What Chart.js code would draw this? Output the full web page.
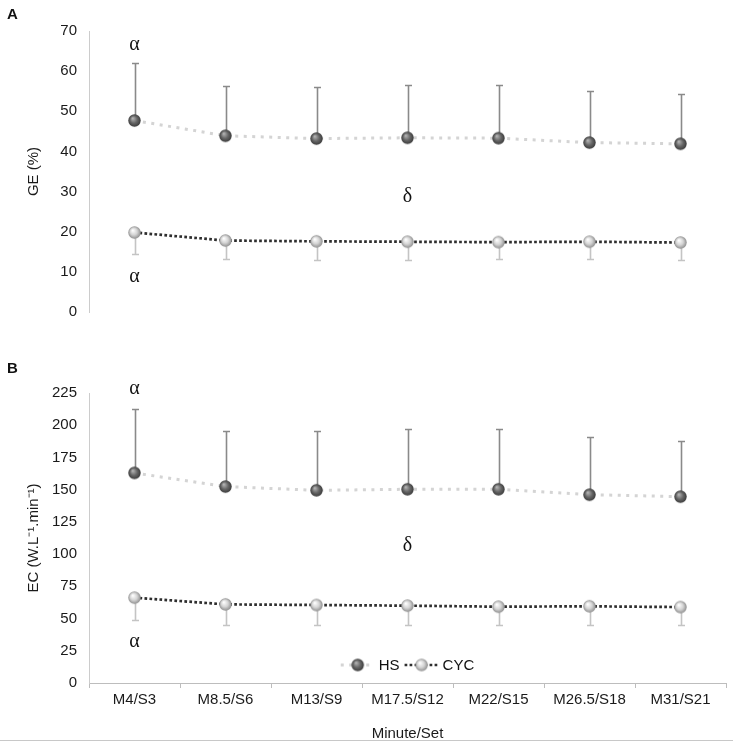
<!DOCTYPE html>
<html><head><meta charset="utf-8">
<script src="https://cdn.jsdelivr.net/npm/chart.js@4.4.1/dist/chart.umd.min.js"></script>
<style>
html,body{margin:0;padding:0;background:#fff;}
#wrap{position:relative;width:733px;height:744px;overflow:hidden;background:#fff;}
#ca{position:absolute;left:0;top:0;}
#cb{position:absolute;left:0;top:330px;}
.pl{position:absolute;font:bold 15px "Liberation Sans",Arial,sans-serif;color:#111;}
#rule{position:absolute;left:0;top:740px;width:733px;height:1px;background:#c8c8c8;}
</style></head><body>
<div id="wrap">
<canvas id="ca" width="735" height="333"></canvas>
<canvas id="cb" width="735" height="414"></canvas>
<div class="pl" style="left:7px;top:5px">A</div>
<div class="pl" style="left:7px;top:359px">B</div>
<div id="rule"></div>
</div>
<script>
const categories = ['M4/S3','M8.5/S6','M13/S9','M17.5/S12','M22/S15','M26.5/S18','M31/S21'];
const seriesNames = ['HS','CYC'];
// Panel A: GE (%)
const geHS    = [47.7, 43.9, 43.2, 43.4, 43.3, 42.2, 41.9];
const geHSsd  = [14.3, 12.5, 12.8, 13.2, 13.3, 12.9, 12.4];
const geCYC   = [19.8, 17.8, 17.6, 17.5, 17.4, 17.5, 17.3];
const geCYCsd = [5.4, 4.7, 4.7, 4.6, 4.3, 4.4, 4.4];
// Panel B: EC (W.L-1.min-1)
const ecHS    = [163.0, 152.4, 149.5, 150.3, 150.3, 146.1, 144.6];
const ecHSsd  = [49.6, 43.3, 46.2, 47.0, 46.4, 44.7, 43.1];
const ecCYC   = [66.2, 61.0, 60.5, 60.0, 59.2, 59.5, 58.9];
const ecCYCsd = [17.1, 16.1, 15.6, 15.1, 14.3, 14.6, 14.0];
// Axis ticks
const geTicks = {min: 0, max: 70, step: 10};
const ecTicks = {min: 0, max: 225, step: 25};
// Significance symbols: [category index, value, symbol]
const geSymbols = [[0, 66.5, 'α'], [0, 8.7, 'α'], [3, 28.7, 'δ']];
const ecSymbols = [[0, 228.5, 'α'], [0, 31.7, 'α'], [3, 106.4, 'δ']];

const FONT = '"Liberation Sans", Arial, Helvetica, sans-serif';

function sphere(base, light, edge) {
  const s = 15, r = 6.2;
  const c = document.createElement('canvas'); c.width = s; c.height = s;
  const g = c.getContext('2d');
  const grad = g.createRadialGradient(s/2 - 1.8, s/2 - 2.3, 0.3, s/2, s/2, r);
  grad.addColorStop(0, light); grad.addColorStop(0.55, base); grad.addColorStop(1, edge);
  g.fillStyle = grad; g.beginPath(); g.arc(s/2, s/2, r, 0, Math.PI * 2); g.fill();
  return c;
}
const ballHS = sphere('#676767', '#b5b5b5', '#3c3c3c');
const ballCYC = sphere('#d4d4d4', '#ffffff', '#909090');

const errorBars = {
  id: 'errorBars',
  beforeDatasetsDraw(chart) {
    const ctx = chart.ctx, y = chart.scales.y;
    chart.data.datasets.forEach((ds, di) => {
      const meta = chart.getDatasetMeta(di);
      ctx.save(); ctx.strokeStyle = ds.errColor; ctx.lineWidth = 1.6;
      meta.data.forEach((pt, i) => {
        const y1 = Math.round(y.getPixelForValue(ds.data[i] + ds.err[i] * ds.errDir)) + 0.5;
        const x = Math.round(pt.x) + 0.5;
        ctx.beginPath(); ctx.moveTo(x, pt.y); ctx.lineTo(x, y1);
        ctx.moveTo(x - 3.5, y1); ctx.lineTo(x + 3.5, y1); ctx.stroke();
      });
      ctx.restore();
    });
  }
};

const symbols = {
  id: 'symbols',
  afterDraw(chart, args, opts) {
    const ctx = chart.ctx, x = chart.scales.x, y = chart.scales.y;
    ctx.save();
    ctx.font = '20px "Liberation Serif", "DejaVu Serif", serif';
    ctx.fillStyle = '#111'; ctx.textAlign = 'center'; ctx.textBaseline = 'middle';
    (opts.list || []).forEach(([i, v, t]) => {
      ctx.fillText(t, x.getPixelForValue(i), y.getPixelForValue(v));
    });
    ctx.restore();
  }
};

const innerLegend = {
  id: 'innerLegend',
  afterDraw(chart, args, opts) {
    if (!opts.show) return;
    const ctx = chart.ctx, area = chart.chartArea;
    const dss = chart.data.datasets;
    ctx.save();
    ctx.font = '15px ' + FONT;
    const sample = 34, gapT = 4, gapI = 5;
    let total = 0;
    dss.forEach((ds, i) => { total += sample + gapT + ctx.measureText(ds.label).width + (i < dss.length - 1 ? gapI : 0); });
    let cx = (area.left + area.right) / 2 - total / 2;
    const cy = area.bottom - 18;
    dss.forEach((ds) => {
      ctx.strokeStyle = ds.borderColor; ctx.lineWidth = ds.borderWidth;
      ctx.setLineDash(ds.borderDash);
      ctx.beginPath(); ctx.moveTo(cx, cy); ctx.lineTo(cx + sample, cy); ctx.stroke();
      ctx.setLineDash([]);
      const img = ds.pointStyle;
      ctx.drawImage(img, cx + sample / 2 - img.width / 2, cy - img.height / 2);
      cx += sample + gapT;
      ctx.fillStyle = '#111'; ctx.textBaseline = 'middle'; ctx.textAlign = 'left';
      ctx.fillText(ds.label, cx, cy + 1);
      cx += ctx.measureText(ds.label).width + gapI;
    });
    ctx.restore();
  }
};

function makeChart(id, hs, hsSd, cyc, cycSd, tk, title, showX, padding, syms, legend) {
  return new Chart(document.getElementById(id), {
    type: 'line',
    data: {
      labels: categories,
      datasets: [
        { label: seriesNames[0], data: hs, err: hsSd, errDir: 1, errColor: '#8a8a8a',
          borderColor: '#d4d4d4', borderWidth: 3, borderDash: [3, 5.5], tension: 0,
          pointStyle: ballHS, pointRadius: 6, fill: false },
        { label: seriesNames[1], data: cyc, err: cycSd, errDir: -1, errColor: '#c4c4c4',
          borderColor: '#2e2e2e', borderWidth: 2.7, borderDash: [2.7, 2.3], tension: 0,
          pointStyle: ballCYC, pointRadius: 6, fill: false }
      ]
    },
    options: {
      responsive: false, animation: false, devicePixelRatio: 1,
      layout: { padding: padding },
      plugins: {
        legend: { display: false }, tooltip: { enabled: false },
        symbols: { list: syms }, innerLegend: { show: legend }
      },
      scales: {
        x: {
          display: showX, offset: true,
          grid: { display: true, offset: true, drawOnChartArea: false, drawTicks: true, tickLength: 5, color: '#bdbdbd' },
          border: { display: true, color: '#bdbdbd', width: 1 },
          ticks: { color: '#1a1a1a', font: { family: FONT, size: 15 }, padding: 3, maxRotation: 0 },
          title: { display: true, text: 'Minute/Set', color: '#1a1a1a', font: { family: FONT, size: 15 }, padding: { top: 13, bottom: 0 } }
        },
        y: {
          min: tk.min, max: tk.max,
          afterFit(s) { s.width = 67; },
          grid: { display: false, drawTicks: false },
          border: { display: true, color: '#cccccc', width: 1 },
          ticks: { stepSize: tk.step, color: '#1a1a1a', font: { family: FONT, size: 15 }, padding: 12 },
          title: { display: true, text: title, color: '#1a1a1a', font: { family: FONT, size: 15 }, padding: { top: 3, bottom: 0 } }
        }
      }
    },
    plugins: [errorBars, symbols, innerLegend]
  });
}

makeChart('ca', geHS, geHSsd, geCYC, geCYCsd, geTicks, 'GE (%)', false,
  { left: 22, right: 5, top: 31, bottom: 11 }, geSymbols, false);
makeChart('cb', ecHS, ecHSsd, ecCYC, ecCYCsd, ecTicks, 'EC (W.L⁻¹.min⁻¹)', true,
  { left: 22, right: 5, top: 63, bottom: 1 }, ecSymbols, true);
</script>
</body></html>
